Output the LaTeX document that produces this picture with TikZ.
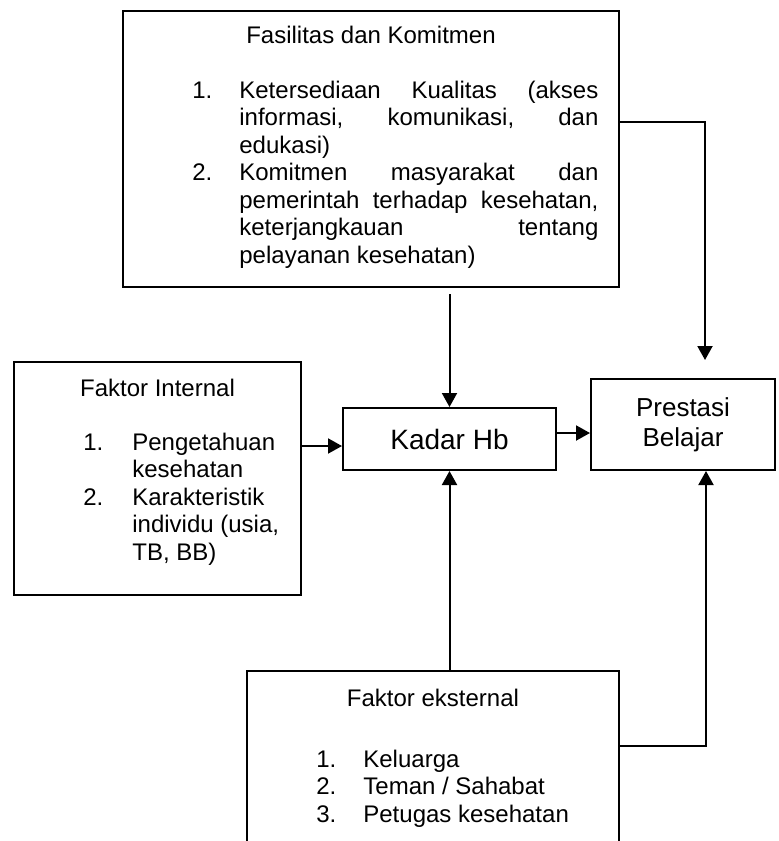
\documentclass[tikz,border=0pt]{standalone}
\usepackage{fontspec}
\setmainfont{Liberation Sans}
\usetikzlibrary{arrows.meta}

\begin{document}
\begin{tikzpicture}[
        x=0.5pt, y=-0.5pt,
        kotak/.style={draw, line width=1pt, inner sep=0pt},
        judul/.style={anchor=base, inner sep=0pt, font=\fontsize{12}{13.75}\selectfont},
        daftar/.style={anchor=base west, inner sep=0pt, font=\fontsize{12}{13.75}\selectfont},
        panah/.style={-{Triangle[length=7pt, width=7.5pt]}, line width=1pt}
    ]
    % Batas gambar
    \useasboundingbox (0,0) rectangle (779,841);
    \clip (0,0) rectangle (779,841);

    % Kotak-kotak
    \node[kotak, minimum width=248pt, minimum height=138pt] (fasilitas) at (371,149) {};
    \node[kotak, minimum width=106.5pt, minimum height=31pt, font=\fontsize{14}{16}\selectfont] (kadar) at (449.5,439) {Kadar Hb};
    \node[kotak, minimum width=92pt, minimum height=45.5pt, align=center, font=\fontsize{13}{15}\selectfont] (prestasi) at (683,424.5) {Prestasi\\Belajar};
    \node[kotak, minimum width=143.5pt, minimum height=116.5pt] (internal) at (157.5,478.5) {};
    \node[kotak, minimum width=186pt, minimum height=115pt] (eksternal) at (433,786) {};

    % Isi kotak Fasilitas dan Komitmen
    \node[judul] (judulFasilitas) at (371,43) {Fasilitas dan Komitmen};
    \node[daftar] (isiFasilitas) at (192,98) {%
        \begin{tabular}[t]{@{}p{23.5pt}@{}l@{}}
            1. & \makebox[179.5pt][s]{Ketersediaan Kualitas (akses}\\
               & \makebox[179.5pt][s]{informasi, komunikasi, dan}\\
               & edukasi)\\
            2. & \makebox[179.5pt][s]{Komitmen masyarakat dan}\\
               & \makebox[179.5pt][s]{pemerintah terhadap kesehatan,}\\
               & \makebox[179.5pt][s]{keterjangkauan tentang}\\
               & pelayanan kesehatan)
        \end{tabular}};

    % Isi kotak Faktor Internal
    \node[judul] (judulInternal) at (157.5,396) {Faktor Internal};
    \node[daftar] (isiInternal) at (83,450) {%
        \begin{tabular}[t]{@{}p{24.5pt}@{}l@{}}
            1. & Pengetahuan\\
               & kesehatan\\
            2. & Karakteristik\\
               & individu (usia,\\
               & TB, BB)
        \end{tabular}};

    % Isi kotak Faktor eksternal
    \node[judul] (judulEksternal) at (433,706) {Faktor eksternal};
    \node[daftar] (isiEksternal) at (316,767) {%
        \begin{tabular}[t]{@{}p{23.5pt}@{}l@{}}
            1. & Keluarga\\
            2. & Teman / Sahabat\\
            3. & Petugas kesehatan
        \end{tabular}};

    % Titik bantu panah
    \coordinate (sudutAtas) at (705,122);
    \coordinate (sudutBawah) at (706,746);
    \coordinate (masukKadar) at ([yshift=-3.5pt]kadar.west);
    \coordinate (keluarKadar) at ([yshift=3pt]kadar.east);

    % Panah
    \draw[panah, shorten <=3pt] (fasilitas.south -| kadar.north) -- (kadar.north);
    \draw[panah] (eksternal.north -| kadar.south) -- (kadar.south);
    \draw[panah] (masukKadar -| internal.east) -- (masukKadar);
    \draw[panah] (keluarKadar) -- (keluarKadar -| prestasi.west);
    \draw[panah, shorten >=9pt] (fasilitas.east |- sudutAtas) -- (sudutAtas) -- (sudutAtas |- prestasi.north);
    \draw[panah] (eksternal.east |- sudutBawah) -- (sudutBawah) -- (sudutBawah |- prestasi.south);

\end{tikzpicture}
\end{document}
